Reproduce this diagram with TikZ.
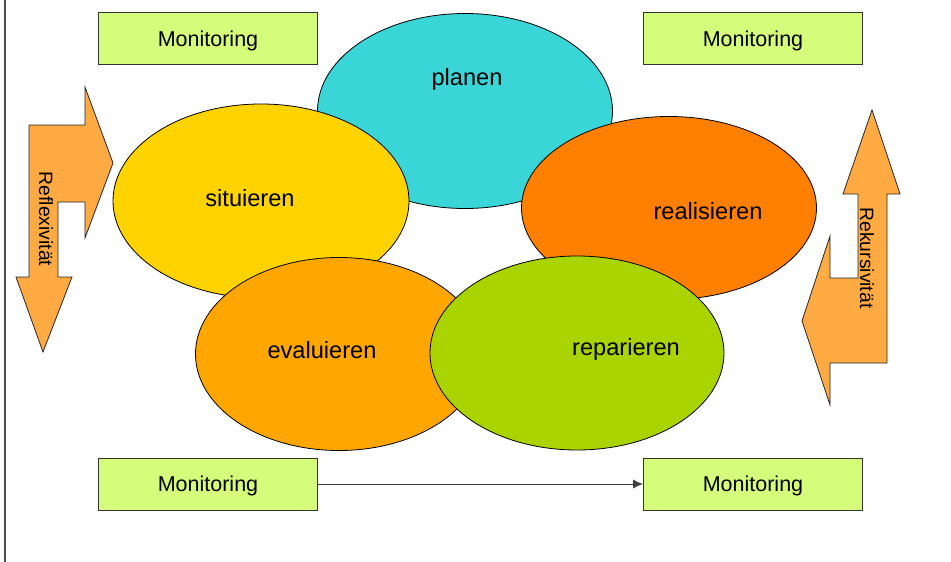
\documentclass[tikz,border=0pt]{standalone}
\usepackage{fontspec}
\setmainfont{Liberation Sans}
\usetikzlibrary{shapes.geometric,arrows.meta}
\definecolor{cplan}{HTML}{3AD5D6}
\definecolor{csit}{HTML}{FFD300}
\definecolor{creal}{HTML}{FF7F00}
\definecolor{ceval}{HTML}{FFA600}
\definecolor{crep}{HTML}{AAD400}
\definecolor{cmon}{HTML}{D5FC7B}
\definecolor{carr}{HTML}{FFAA42}
\tikzset{
  oval/.style={ellipse, draw=black, line width=0.8pt, inner sep=0pt},
  mon/.style={draw=black!80, line width=0.8pt, fill=cmon, minimum width=219pt, minimum height=52pt, inner sep=0pt, text depth=0pt, font=\fontsize{21.5}{25}\selectfont},
  lbl/.style={font=\fontsize{23.6}{28}\selectfont, inner sep=0pt, text depth=0pt},
  blockarrow/.style={draw=black!85, line width=0.8pt, fill=carr},
  vlbl/.style={font=\fontsize{19.3}{23}\selectfont, inner sep=0pt, rotate=-90}
}
\begin{document}
\begin{tikzpicture}[x=1pt,y=-1pt]
\useasboundingbox (0,0) rectangle (951,562);
\draw[black!70, line width=1.2pt] (5,0) -- (5,562);
% ellipses
\node[oval, fill=cplan, minimum width=295pt, minimum height=195pt] (plan) at (465,111) {};
\node[oval, fill=csit, minimum width=296pt, minimum height=194pt] (sit) at (261,201) {};
\node[oval, fill=creal, minimum width=295pt, minimum height=183pt] (real) at (669,208) {};
\node[oval, fill=ceval, minimum width=287pt, minimum height=193pt] (eval) at (339,354) {};
\node[oval, fill=crep, minimum width=294pt, minimum height=194pt] (rep) at (577,353) {};
\node[lbl] (tplan) at (467,77) {planen};
\node[lbl] (tsit) at (250,198) {situieren};
\node[lbl] (treal) at (708,211) {realisieren};
\node[lbl] (teval) at (322,350) {evaluieren};
\node[lbl] (trep) at (626,347) {reparieren};
% monitoring boxes
\node[mon] (mtl) at (208,38.5) {Monitoring};
\node[mon] (mtr) at (753,38.5) {Monitoring};
\node[mon] (mbl) at (208,484) {Monitoring};
\node[mon] (mbr) at (753,484) {Monitoring};
\draw[black!75, line width=1pt, -{Latex[length=10pt,width=9pt]}] (mbl.east) -- (mbr.west);
% block arrows
\draw[blockarrow] (29,125) -- (85,125) -- (85,87) -- (113,163) -- (85,238) -- (85,202) -- (58,202) -- (58,277) -- (72,277) -- (43,352) -- (16,277) -- (29,277) -- cycle;
\node[vlbl] (trefl) at (46,219) {Reflexivität};
\draw[blockarrow] (872,110) -- (900,194) -- (887,194) -- (887,363) -- (830,363) -- (830,405) -- (802,321) -- (830,236) -- (830,278) -- (858,278) -- (858,194) -- (843,194) -- cycle;
\node[vlbl] (trek) at (867,258) {Rekursivität};
\end{tikzpicture}
\end{document}
